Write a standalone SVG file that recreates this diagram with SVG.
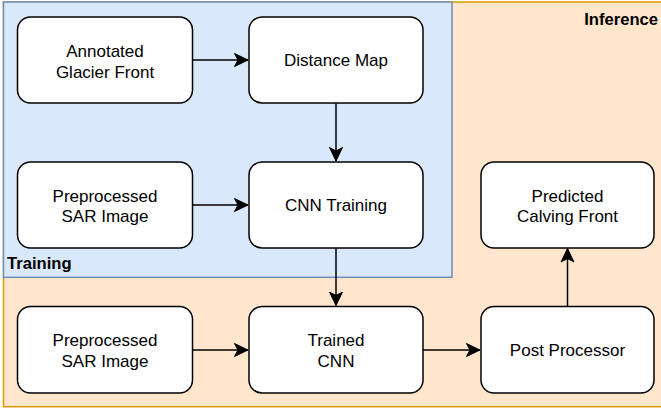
<svg xmlns="http://www.w3.org/2000/svg" width="661" height="409" viewBox="0 0 661 409">
<defs>
<style>
.box{fill:#fff;stroke:#000;stroke-width:1.5}
.t{font-family:"Liberation Sans",Arial,Helvetica,sans-serif;font-size:17px;fill:#000;text-anchor:middle}
.lbl{font-family:"Liberation Sans",Arial,Helvetica,sans-serif;font-size:16.6px;font-weight:bold;fill:#000}
.edge{fill:none;stroke:#000;stroke-width:1.5}
</style>
<marker id="arr" markerUnits="userSpaceOnUse" markerWidth="16" markerHeight="16" viewBox="-14 -8 16 16" refX="0" refY="0" orient="auto">
<path d="M0,0 L-13.5,-6.5 L-10,0 L-13.5,6.5 Z" fill="#000" stroke="#000" stroke-width="1"/>
</marker>
</defs>
<g id="inference-region">
<rect x="3.5" y="2" width="670" height="404.7" fill="#FFE6CC" stroke="#D79B00" stroke-width="1.5"/>
<text class="lbl" x="658" y="25" text-anchor="end">Inference</text>
</g>
<g id="training-region">
<rect x="3.5" y="2" width="448.5" height="275.3" fill="#DAE8FC" stroke="#6C8EBF" stroke-width="1.5"/>
<text class="lbl" x="7" y="268.5">Training</text>
</g>
<g id="connectors">
<path class="edge" d="M193,60 H248" marker-end="url(#arr)"/>
<path class="edge" d="M336,103.5 V161" marker-end="url(#arr)"/>
<path class="edge" d="M193,205 H248" marker-end="url(#arr)"/>
<path class="edge" d="M336,248 V305.5" marker-end="url(#arr)"/>
<path class="edge" d="M193,350 H248" marker-end="url(#arr)"/>
<path class="edge" d="M423,350 H480" marker-end="url(#arr)"/>
<path class="edge" d="M567.5,306 V248.5" marker-end="url(#arr)"/>
</g>
<g id="annotated-glacier-front">
<rect class="box" x="17.5" y="17" width="175" height="86" rx="13"/>
<text class="t" x="105" y="57">Annotated</text>
<text class="t" x="105" y="77.5">Glacier Front</text>
</g>
<g id="distance-map">
<rect class="box" x="249" y="17" width="174" height="86" rx="13"/>
<text class="t" x="336" y="66">Distance Map</text>
</g>
<g id="preprocessed-sar-training">
<rect class="box" x="17.5" y="162" width="175" height="86" rx="13"/>
<text class="t" x="105" y="201.5">Preprocessed</text>
<text class="t" x="105" y="222">SAR Image</text>
</g>
<g id="cnn-training">
<rect class="box" x="249" y="162" width="174" height="86" rx="13"/>
<text class="t" x="336" y="211">CNN Training</text>
</g>
<g id="predicted-calving-front">
<rect class="box" x="481" y="162" width="173" height="86" rx="13"/>
<text class="t" x="567.5" y="201.5">Predicted</text>
<text class="t" x="567.5" y="222">Calving Front</text>
</g>
<g id="preprocessed-sar-inference">
<rect class="box" x="17.5" y="306.5" width="175" height="86.5" rx="13"/>
<text class="t" x="105" y="346">Preprocessed</text>
<text class="t" x="105" y="366.5">SAR Image</text>
</g>
<g id="trained-cnn">
<rect class="box" x="249" y="306.5" width="174" height="86.5" rx="13"/>
<text class="t" x="336" y="346">Trained</text>
<text class="t" x="336" y="366.5">CNN</text>
</g>
<g id="post-processor">
<rect class="box" x="481" y="306.5" width="173" height="86.5" rx="13"/>
<text class="t" x="567.5" y="356">Post Processor</text>
</g>
</svg>
